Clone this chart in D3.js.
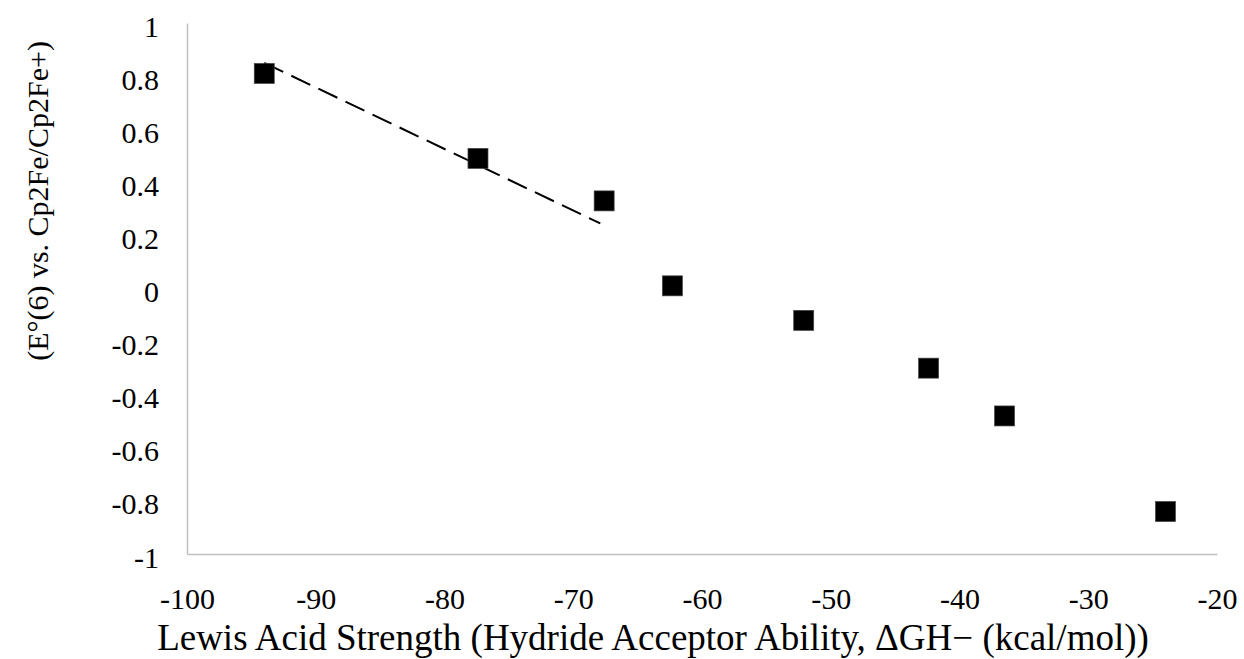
<!DOCTYPE html>
<html>
<head>
<meta charset="utf-8">
<script src="https://cdn.jsdelivr.net/npm/d3@7"></script>
<style>
  body { margin: 0; background: #fff; }
  svg text { font-family: "Liberation Serif", "Times New Roman", serif; fill: #000; }
</style>
</head>
<body>
<svg id="chart" width="1244" height="659"></svg>
<script>
// data
var strength = [-94.0, -77.4, -67.6, -62.3, -52.1, -42.4, -36.5, -24.0];
var potential = [0.81, 0.49, 0.33, 0.01, -0.12, -0.30, -0.48, -0.84];
var trendX = [-94.0, -67.9];
var trendY = [0.85, 0.245];
var xTicks = [-100, -90, -80, -70, -60, -50, -40, -30, -20];
var yTicks = [1, 0.8, 0.6, 0.4, 0.2, 0, -0.2, -0.4, -0.6, -0.8, -1];

var plotLeft = 187, plotRight = 1217, plotTop = 23, plotBottom = 554;
var fontSize = 30;
var markerSize = 20;
var serif = '"Liberation Serif", "Times New Roman", serif';

var svg = d3.select("#chart");

var x = d3.scaleLinear().domain([-100, -20]).range([plotLeft, plotRight]);
var y = d3.scaleLinear().domain([-1, 1]).range([plotBottom, plotTop]);

// axes: grey lines, no tick marks
var xAxis = d3.axisBottom(x).tickValues(xTicks).tickSize(0).tickPadding(0)
    .tickFormat(function(d) { return d; });
var yAxis = d3.axisLeft(y).tickValues(yTicks).tickSize(0).tickPadding(0)
    .tickFormat(function(d) { return d; });

var gx = svg.append("g").attr("transform", "translate(0," + plotBottom + ")").call(xAxis);
var gy = svg.append("g").attr("transform", "translate(" + plotLeft + ",0)").call(yAxis);

[gx, gy].forEach(function(g) {
    g.attr("font-family", null).attr("font-size", null);
    g.select(".domain").attr("stroke", "#bfbfbf").attr("stroke-width", 1.5);
    g.selectAll("text")
        .style("font-family", serif)
        .style("font-size", fontSize + "px")
        .attr("fill", "#000");
});
gx.selectAll("text").attr("dy", null).attr("y", 55);
gy.selectAll("text").attr("dy", null).attr("x", -28).attr("y", 13);

// dashed trendline
var line = d3.line()
    .x(function(d) { return x(d[0]); })
    .y(function(d) { return y(d[1]); });
svg.append("path")
    .datum(d3.zip(trendX, trendY))
    .attr("d", line)
    .attr("fill", "none")
    .attr("stroke", "#000")
    .attr("stroke-width", 2)
    .attr("stroke-dasharray", "21,9");

// square markers
svg.selectAll("rect.pt")
    .data(d3.zip(strength, potential))
    .enter()
    .append("rect")
    .attr("class", "pt")
    .attr("x", function(d) { return x(d[0]) - markerSize / 2; })
    .attr("y", function(d) { return y(d[1]) - markerSize / 2; })
    .attr("width", markerSize)
    .attr("height", markerSize)
    .attr("fill", "#000")
    .attr("stroke", "#444")
    .attr("stroke-width", 0.7);

// axis titles
svg.append("text")
    .attr("x", 653)
    .attr("y", 650)
    .attr("text-anchor", "middle")
    .style("font-family", serif)
    .style("font-size", "37px")
    .text("Lewis Acid Strength (Hydride Acceptor Ability, \u0394GH\u2212 (kcal/mol))");

svg.append("text")
    .attr("transform", "translate(48,201) rotate(-90)")
    .attr("text-anchor", "middle")
    .style("font-family", serif)
    .style("font-size", "30px")
    .text("(E\u00b0(6) vs. Cp2Fe/Cp2Fe+)");
</script>
</body>
</html>
